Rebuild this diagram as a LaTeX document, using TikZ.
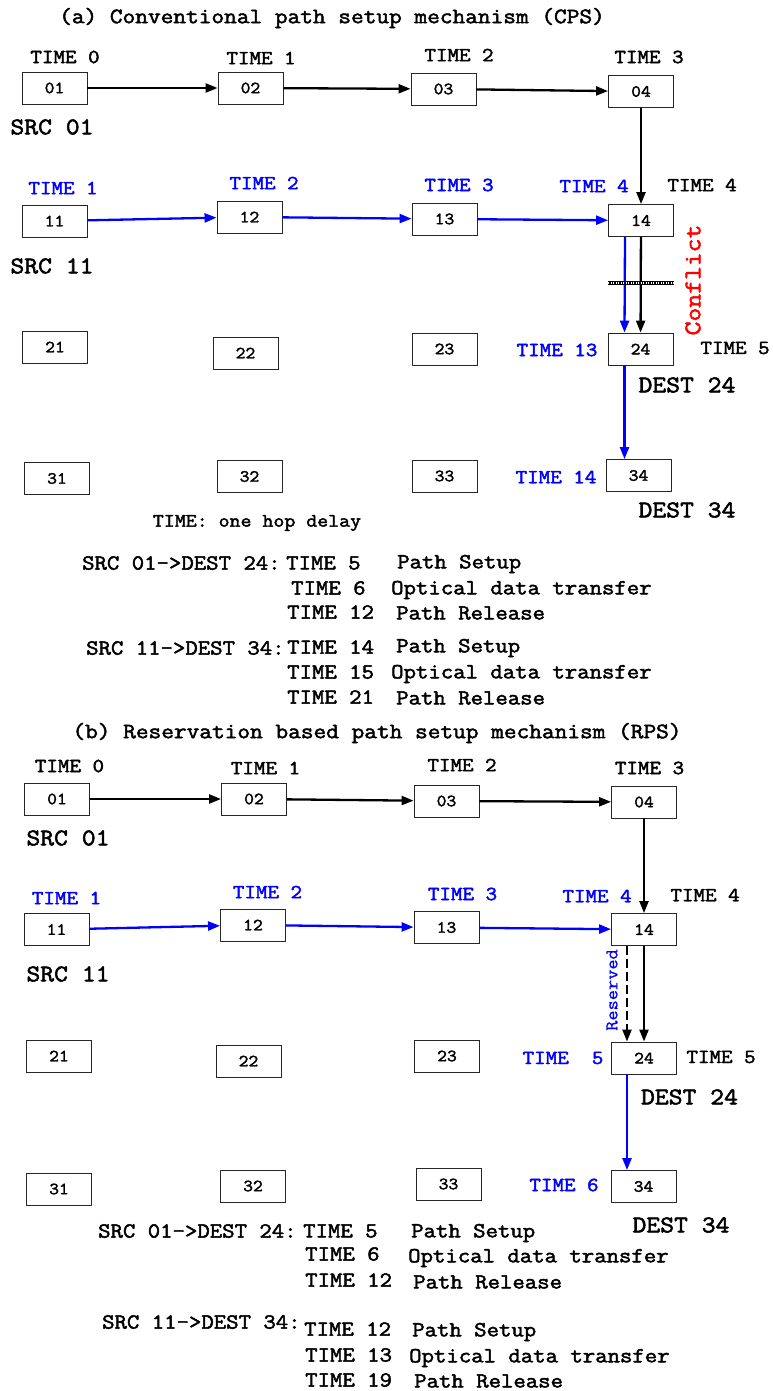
\documentclass[tikz,border=0pt]{standalone}
\usepackage{fontspec}
\newfontfamily\courfont{Latin Modern Mono}[FakeBold=2.2, FakeStretch=1.12]
\newfontfamily\courlight{Latin Modern Mono}[FakeBold=0.8, FakeStretch=1.1]
\usepackage{xcolor}
\usetikzlibrary{arrows.meta, positioning, calc}
\definecolor{pathblue}{RGB}{0,0,255}

\begin{document}
\begin{tikzpicture}[
    x=1pt, y=-1pt,
    router/.style={rectangle, draw=black!85, fill=white, line width=0.9pt,
                  minimum width=65pt, minimum height=32pt, inner sep=0pt,
                  font=\courfont\fontsize{17}{17}\selectfont},
    tlabel/.style={inner sep=0pt, font=\courfont\fontsize{20}{20}\selectfont},
    blabel/.style={tlabel, text=pathblue},
    srclabel/.style={inner sep=0pt, font=\courfont\fontsize{24}{24}\selectfont},
    title/.style={inner sep=0pt, font=\courfont\fontsize{22}{22}\selectfont},
    listtext/.style={inner sep=0pt, anchor=west, font=\courfont\fontsize{21.5}{21.5}\selectfont},
    arrow/.style={-{Triangle[length=12pt,width=9pt]}, line width=2.3pt, black},
    barrow/.style={arrow, pathblue}
]
\useasboundingbox (0,0) rectangle (773,1391);

% ---------------- (a) CPS ----------------
\node[title] at (332,18) (titleA) {(a) Conventional path setup mechanism (CPS)};

% Routers
\node[router] at (54.5,88) (a01) {01};
\node[router] at (250.5,88) (a02) {02};
\node[router] at (443.5,89) (a03) {03};
\node[router] at (641,91.5) (a04) {04};
\node[router] at (54.5,221) (a11) {11};
\node[router] at (249.5,217) (a12) {12};
\node[router] at (444.5,219) (a13) {13};
\node[router] at (641,220.5) (a14) {14};
\node[router] at (55,347) (a21) {21};
\node[router] at (245.5,353) (a22) {22};
\node[router] at (444.5,349) (a23) {23};
\node[router] at (640.5,349) (a24) {24};
\node[router] at (57,478.5) (a31) {31};
\node[router] at (249.5,476.5) (a32) {32};
\node[router] at (444.5,476) (a33) {33};
\node[router] at (638.5,475.5) (a34) {34};

% Labels
\node[tlabel] at (65,57) (a-t0) {TIME 0};
\node[tlabel] at (261,58) (a-t1) {TIME 1};
\node[tlabel] at (459,55) (a-t2) {TIME 2};
\node[tlabel] at (649,57) (a-t3) {TIME 3};
\node[srclabel] at (52,127) (a-src01) {SRC 01};
\node[blabel] at (63,188) (a-b1) {TIME 1};
\node[blabel] at (264,183) (a-b2) {TIME 2};
\node[blabel] at (459,185) (a-b3) {TIME 3};
\node[blabel] at (594,186) (a-b4) {TIME 4};
\node[tlabel] at (702,185) (a-t4) {TIME 4};
\node[srclabel] at (52,266) (a-src11) {SRC 11};
\node[blabel] at (557,350) (a-b13) {TIME 13};
\node[tlabel] at (735,348) (a-t5) {TIME 5};
\node[srclabel] at (687,385) (a-dest24) {DEST 24};
\node[blabel] at (556,477) (a-b14) {TIME 14};
\node[srclabel] at (687,510) (a-dest34) {DEST 34};
\node[inner sep=0pt, rotate=90, text=red, font=\courfont\fontsize{24}{24}\selectfont]
    at (693,280) (conflict) {Conflict};

% Arrows
\draw[arrow] (a01) -- (a02);
\draw[arrow] (a02) -- (a03);
\draw[arrow] (a03) -- (a04);
\draw[arrow] (a04) -- (a14);
\draw[barrow] (a11) -- (a12);
\draw[barrow] (a12) -- (a13);
\draw[barrow] (a13) -- (a14);
\draw[barrow] ([xshift=-16pt]a14.south) -- ([xshift=-16pt]a24.north);
\draw[arrow] (a14) -- (a24);
\draw[barrow] ([xshift=-16pt]a24.south) -- ([xshift=-16pt]a24.south |- a34.north);

% conflict bar
\draw[line width=4pt, black] ([yshift=-46pt]a14.south west) -- ([yshift=-46pt]a14.south east);
\draw[line width=1.2pt, white, dash pattern=on 1pt off 1.5pt]
    ([yshift=-46pt]a14.south west) -- ([yshift=-46pt]a14.south east);

% Timeline text
\node[inner sep=0pt, font=\courfont\fontsize{19}{19}\selectfont] at (257,523) (hop) {TIME: one hop delay};
\node[listtext] at (82,563) (a-l1) {SRC 01->DEST 24:};
\node[listtext] at (286,563) (a-l1t) {TIME 5};
\node[listtext] at (397,564) (a-l1d) {Path Setup};
\node[listtext] at (291,588) (a-l2t) {TIME 6};
\node[listtext] at (391,590) (a-l2d) {Optical data transfer};
\node[listtext] at (287,612) (a-l3t) {TIME 12};
\node[listtext] at (396,613) (a-l3d) {Path Release};
\node[listtext] at (86,648) (a-l4) {SRC 11->DEST 34:};
\node[listtext] at (287,647) (a-l4t) {TIME 14};
\node[listtext] at (396,648) (a-l4d) {Path Setup};
\node[listtext] at (287,672) (a-l5t) {TIME 15};
\node[listtext] at (391,674) (a-l5d) {Optical data transfer};
\node[listtext] at (287,697) (a-l6t) {TIME 21};
\node[listtext] at (396,698) (a-l6d) {Path Release};

% ---------------- (b) RPS ----------------
\node[title] at (377,733) (titleB) {(b) Reservation based path setup mechanism (RPS)};

% Routers
\node[router] at (57,799) (b01) {01};
\node[router] at (254,799) (b02) {02};
\node[router] at (446.5,801) (b03) {03};
\node[router] at (644,802) (b04) {04};
\node[router] at (56.5,929.5) (b11) {11};
\node[router] at (253,925) (b12) {12};
\node[router] at (446.5,927.5) (b13) {13};
\node[router] at (644,929.5) (b14) {14};
\node[router] at (59,1056) (b21) {21};
\node[router] at (248.5,1061) (b22) {22};
\node[router] at (447,1056) (b23) {23};
\node[router] at (644,1058) (b24) {24};
\node[router] at (59,1189) (b31) {31};
\node[router] at (253,1186) (b32) {32};
\node[router] at (448.5,1184) (b33) {33};
\node[router] at (643.5,1186.5) (b34) {34};

% Labels
\node[tlabel] at (69.5,766) (b-t0) {TIME 0};
\node[tlabel] at (265.5,768) (b-t1) {TIME 1};
\node[tlabel] at (462,765) (b-t2) {TIME 2};
\node[tlabel] at (649.5,768) (b-t3) {TIME 3};
\node[srclabel] at (68,838) (b-src01) {SRC 01};
\node[blabel] at (66.5,898) (b-b1) {TIME 1};
\node[blabel] at (267.5,892) (b-b2) {TIME 2};
\node[blabel] at (462.5,894) (b-b3) {TIME 3};
\node[blabel] at (597,896) (b-b4) {TIME 4};
\node[tlabel] at (705,895) (b-t4) {TIME 4};
\node[srclabel] at (68,974) (b-src11) {SRC 11};
\node[blabel] at (563,1058) (b-b5) {TIME\ \ 5};
\node[tlabel] at (721,1057) (b-t5) {TIME 5};
\node[srclabel] at (689.5,1097) (b-dest24) {DEST 24};
\node[blabel] at (564,1185) (b-b6) {TIME 6};
\node[srclabel] at (681,1225) (b-dest34) {DEST 34};
\node[inner sep=0pt, rotate=90, text=pathblue, font=\courlight\fontsize{18}{18}\selectfont]
    at (612,990) (reserved) {Reserved};

% Arrows
\draw[arrow] (b01) -- (b02);
\draw[arrow] (b02) -- (b03);
\draw[arrow] (b03) -- (b04);
\draw[arrow] (b04) -- (b14);
\draw[barrow] (b11) -- (b12);
\draw[barrow] (b12) -- (b13);
\draw[barrow] (b13) -- (b14);
\draw[arrow, dash pattern=on 9pt off 4pt] ([xshift=-17pt]b14.south) -- ([xshift=-17pt]b24.north);
\draw[arrow] (b14) -- (b24);
\draw[barrow] ([xshift=-17pt]b24.south) -- ([xshift=-17pt]b24.south |- b34.north);

% Timeline text
\node[listtext] at (98,1231) (b-l1) {SRC 01->DEST 24:};
\node[listtext] at (303,1231) (b-l1t) {TIME 5};
\node[listtext] at (411,1233) (b-l1d) {Path Setup};
\node[listtext] at (305,1254) (b-l2t) {TIME 6};
\node[listtext] at (408,1258) (b-l2d) {Optical data transfer};
\node[listtext] at (305,1280) (b-l3t) {TIME 12};
\node[listtext] at (413,1282) (b-l3d) {Path Release};
\node[listtext] at (102,1322) (b-l4) {SRC 11->DEST 34:};
\node[listtext] at (304,1329) (b-l4t) {TIME 12};
\node[listtext] at (412,1332) (b-l4d) {Path Setup};
\node[listtext] at (305,1355) (b-l5t) {TIME 13};
\node[listtext] at (409,1358) (b-l5d) {Optical data transfer};
\node[listtext] at (305,1380) (b-l6t) {TIME 19};
\node[listtext] at (414,1381) (b-l6d) {Path Release};

\end{tikzpicture}
\end{document}
